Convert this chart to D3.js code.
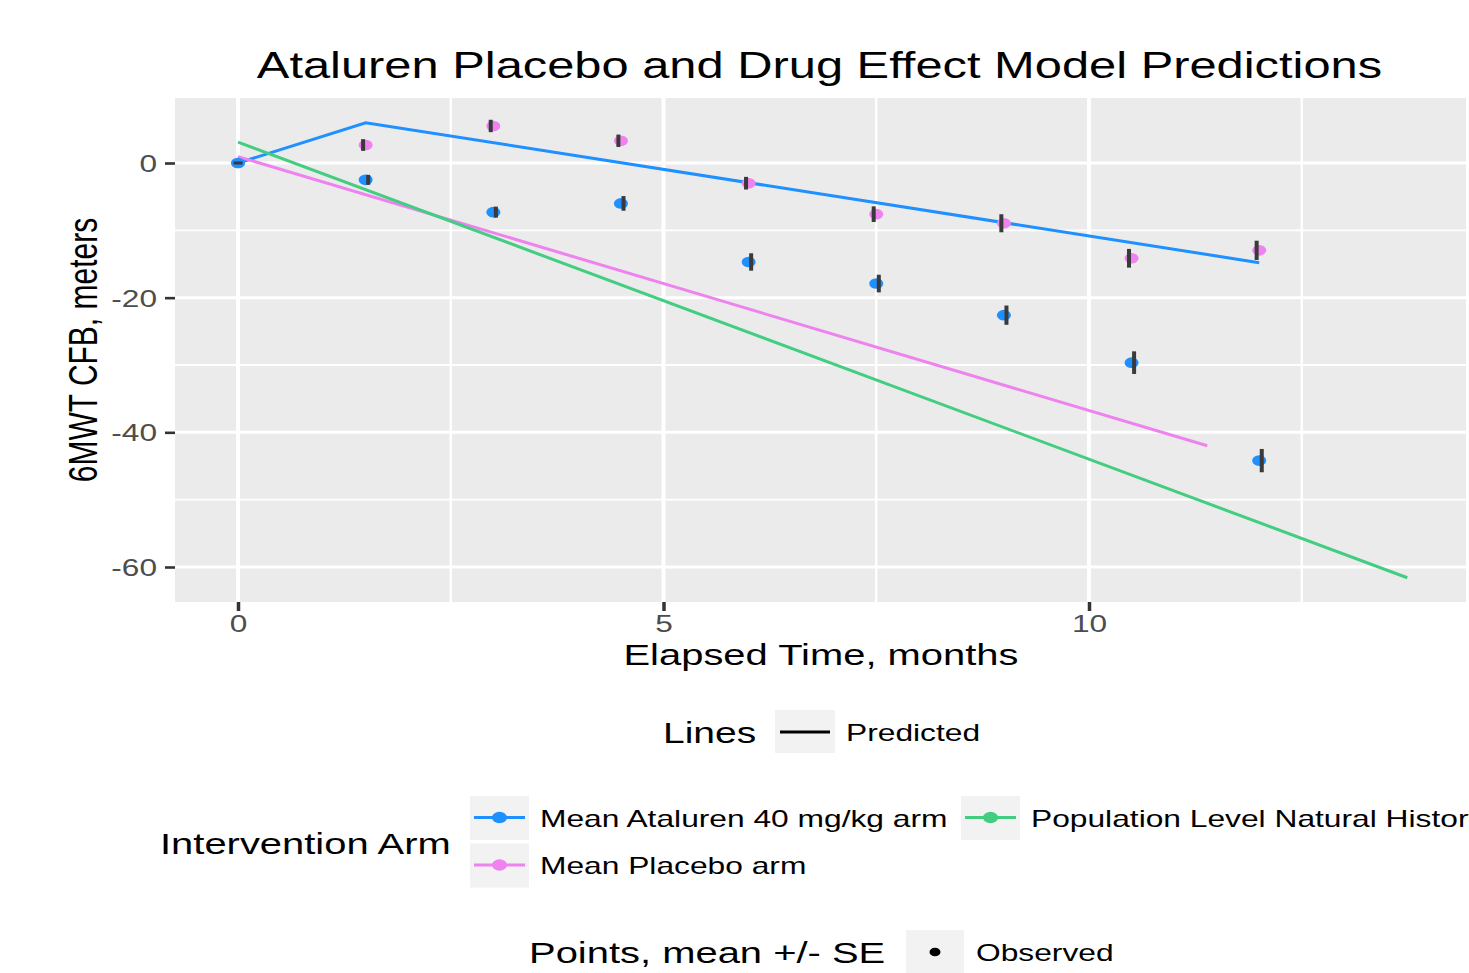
<!DOCTYPE html>
<html>
<head>
<meta charset="utf-8">
<script src="https://cdn.jsdelivr.net/npm/d3@7"></script>
<style>
  body { margin: 0; background: #fff; }
  svg { display: block; font-family: "Liberation Sans", Arial, Helvetica, sans-serif; }
</style>
</head>
<body>
<div id="chart"></div>
<script>
// Observed visits (months) and mean +/- SE change from baseline
const months = [0, 1.5, 3, 4.5, 6, 7.5, 9, 10.5, 12];
const atalurenMean = [0, -2.5, -7.3, -6.0, -14.7, -17.9, -22.6, -29.65, -44.2];
const atalurenSE = [0, 0.74, 0.82, 1.09, 1.29, 1.31, 1.43, 1.68, 1.73];
const placeboMean = [0, 2.67, 5.5, 3.3, -3.0, -7.6, -8.95, -14.15, -12.97];
const placeboSE = [0, 0.87, 0.92, 0.92, 0.94, 1.16, 1.34, 1.39, 1.43];

// Model predicted lines
const atalurenPred = [[0, 0], [1.5, 5.98], [12, -14.8]];
const placeboPred = [[0, 0.95], [11.39, -42.0]];
const naturalPred = [[0, 3.1], [13.74, -61.6]];

const xTicks = [0, 5, 10];
const xMinor = [2.5, 7.5, 12.5];
const yTicks = [0, -20, -40, -60];
const yMinor = [-10, -30, -50];

const armNames = ["Mean Ataluren 40 mg/kg arm", "Mean Placebo arm", "Population Level Natural History"];
const armColors = ["#1E90FF", "#EE82EE", "#43CD80"];

// the picture is stretched horizontally
const SX = 1.345;

const W = 1469, H = 973;
const panel = { left: 175, right: 1466, top: 98, bottom: 602 };

const svg = d3.select("#chart").append("svg")
    .attr("width", W)
    .attr("height", H);

const x = d3.scaleLinear().domain([0, 10]).range([238, 1089]);
const y = d3.scaleLinear().domain([0, -60]).range([163, 567]);

function addText(g, txt, px, py, size, anchor, fill) {
    const t = g.append("text")
        .attr("x", px).attr("y", py)
        .attr("font-size", size)
        .attr("text-anchor", anchor)
        .attr("fill", fill || "#000")
        .text(txt);
    const w = t.node().getComputedTextLength();
    t.attr("textLength", w * SX).attr("lengthAdjust", "spacingAndGlyphs");
    return t;
}

// Panel
svg.append("rect")
    .attr("x", panel.left).attr("y", panel.top)
    .attr("width", panel.right - panel.left)
    .attr("height", panel.bottom - panel.top)
    .attr("fill", "#EBEBEB");

const grid = svg.append("g");
grid.selectAll(".ymin").data(yMinor).enter().append("line")
    .attr("x1", panel.left).attr("x2", panel.right)
    .attr("y1", d => y(d)).attr("y2", d => y(d))
    .attr("stroke", "#fff").attr("stroke-width", 1.8);
grid.selectAll(".xmin").data(xMinor).enter().append("line")
    .attr("y1", panel.top).attr("y2", panel.bottom)
    .attr("x1", d => x(d)).attr("x2", d => x(d))
    .attr("stroke", "#fff").attr("stroke-width", 2.4);
grid.selectAll(".ymaj").data(yTicks).enter().append("line")
    .attr("x1", panel.left).attr("x2", panel.right)
    .attr("y1", d => y(d)).attr("y2", d => y(d))
    .attr("stroke", "#fff").attr("stroke-width", 3);
grid.selectAll(".xmaj").data(xTicks).enter().append("line")
    .attr("y1", panel.top).attr("y2", panel.bottom)
    .attr("x1", d => x(d)).attr("x2", d => x(d))
    .attr("stroke", "#fff").attr("stroke-width", 4);

// Predicted lines
const line = d3.line().x(d => x(d[0])).y(d => y(d[1]));
[atalurenPred, placeboPred, naturalPred].forEach((p, i) => {
    svg.append("path")
        .datum(p)
        .attr("d", line)
        .attr("fill", "none")
        .attr("stroke", armColors[i])
        .attr("stroke-width", 3);
});

// Observed points with SE bars
const observed = [
    { mean: placeboMean, se: placeboSE, color: armColors[1], dodge: -0.03 },
    { mean: atalurenMean, se: atalurenSE, color: armColors[0], dodge: 0.03 }
];
observed.forEach(s => {
    const pts = months.map((m, i) => ({ m: m, v: s.mean[i], se: s.se[i] }));
    svg.append("g").selectAll("ellipse")
        .data(pts).enter().append("ellipse")
        .attr("cx", d => x(d.m))
        .attr("cy", d => y(d.v))
        .attr("rx", 7)
        .attr("ry", 5.3)
        .attr("fill", s.color);
    svg.append("g").selectAll("rect")
        .data(pts).enter().append("rect")
        .attr("x", d => d.se > 0 ? x(d.m + s.dodge) - 2 : x(d.m) - 4.5)
        .attr("y", d => d.se > 0 ? y(d.v + d.se) : y(d.v) - 1.5)
        .attr("width", d => d.se > 0 ? 4 : 9)
        .attr("height", d => d.se > 0 ? y(d.v - d.se) - y(d.v + d.se) : 3)
        .attr("fill", "#3a3a3a");
});

// Axes
const yAxis = svg.append("g")
    .attr("transform", `translate(${panel.left},0)`)
    .call(d3.axisLeft(y).tickValues(yTicks).tickSize(10).tickPadding(8).tickFormat(d => String(d)));
const xAxis = svg.append("g")
    .attr("transform", `translate(0,${panel.bottom})`)
    .call(d3.axisBottom(x).tickValues(xTicks).tickSize(9).tickPadding(4).tickFormat(d => String(d)));
[yAxis, xAxis].forEach(a => {
    a.attr("font-family", null);
    a.select(".domain").remove();
    a.selectAll(".tick line").attr("stroke", "#333");
    a.selectAll(".tick text")
        .attr("font-size", 23.5)
        .attr("fill", "#4D4D4D")
        .each(function() {
            const w = this.getComputedTextLength();
            d3.select(this).attr("textLength", w * SX).attr("lengthAdjust", "spacingAndGlyphs");
        });
});
yAxis.selectAll(".tick line").attr("stroke-width", 2.6);
yAxis.selectAll(".tick text").attr("dy", "0.36em");
xAxis.selectAll(".tick line").attr("stroke-width", 3.5);

// Titles
addText(svg, "Ataluren Placebo and Drug Effect Model Predictions", 819.5, 78, 36.3, "middle");
addText(svg, "Elapsed Time, months", 821, 665, 29.7, "middle");
svg.append("g")
    .attr("transform", `translate(97,350) scale(${SX},1) rotate(-90)`)
    .append("text")
    .attr("text-anchor", "middle")
    .attr("font-size", 30)
    .text("6MWT CFB, meters");

// Legend: Lines
const lg = svg.append("g");
const labelSize = 23.6;
addText(lg, "Lines", 663, 743.3, 29, "start");
lg.append("rect").attr("x", 775).attr("y", 710).attr("width", 60).attr("height", 43).attr("fill", "#F2F2F2");
lg.append("line").attr("x1", 780).attr("x2", 830).attr("y1", 732).attr("y2", 732)
    .attr("stroke", "#000").attr("stroke-width", 2.8);
addText(lg, "Predicted", 846, 741, labelSize, "start");

// Legend: Intervention Arm
addText(lg, "Intervention Arm", 160, 854, 29.7, "start");
const keyPos = [
    { bx: 470, by: 796, tx: 540 },
    { bx: 470, by: 843.5, tx: 540 },
    { bx: 961, by: 796, tx: 1031 }
];
armNames.forEach((name, i) => {
    const k = keyPos[i];
    lg.append("rect").attr("x", k.bx).attr("y", k.by).attr("width", 59).attr("height", 44).attr("fill", "#F2F2F2");
    lg.append("line").attr("x1", k.bx + 4).attr("x2", k.bx + 55)
        .attr("y1", k.by + 21.5).attr("y2", k.by + 21.5)
        .attr("stroke", armColors[i]).attr("stroke-width", 3);
    lg.append("ellipse").attr("cx", k.bx + 29.5).attr("cy", k.by + 21.5)
        .attr("rx", 7.5).attr("ry", 5.8).attr("fill", armColors[i]);
    addText(lg, name, k.tx, k.by + 30.5, labelSize, "start");
});

// Legend: Points
addText(lg, "Points, mean +/- SE", 529, 962.5, 29.7, "start");
lg.append("rect").attr("x", 906).attr("y", 930).attr("width", 58).attr("height", 44).attr("fill", "#F2F2F2");
lg.append("ellipse").attr("cx", 935).attr("cy", 952).attr("rx", 5.5).attr("ry", 4.3).attr("fill", "#000");
addText(lg, "Observed", 976, 961, labelSize, "start");
</script>
</body>
</html>
